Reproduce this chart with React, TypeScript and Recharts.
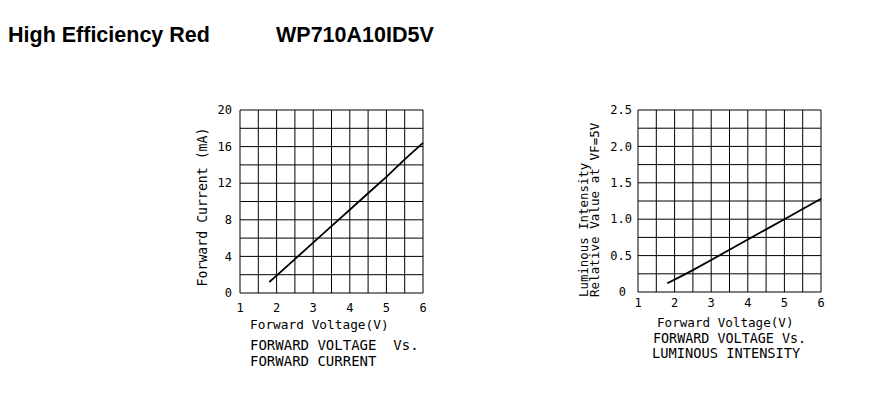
import React from "react";
import { LineChart, Line, XAxis, YAxis, CartesianGrid } from "recharts";

const voltage = [1.8, 2, 2.5, 3, 3.5, 4, 4.5, 5, 5.5, 6];
const forwardCurrent = [1.2, 1.9, 3.7, 5.5, 7.3, 9.1, 10.9, 12.7, 14.6, 16.4];
const luminous = [0.12, 0.17, 0.3, 0.44, 0.58, 0.72, 0.86, 1.0, 1.14, 1.28];

const xTicks = [1, 1.5, 2, 2.5, 3, 3.5, 4, 4.5, 5, 5.5, 6];
const xLabels = ["1", "2", "3", "4", "5", "6"];
const currentTicks = [0, 2, 4, 6, 8, 10, 12, 14, 16, 18, 20];
const currentLabels = ["0", "4", "8", "12", "16", "20"];
const lumTicks = [0, 0.25, 0.5, 0.75, 1, 1.25, 1.5, 1.75, 2, 2.25, 2.5];
const lumLabels = ["0", "0.5", "1.0", "1.5", "2.0", "2.5"];

const title = "High Efficiency Red";
const partNo = "WP710A10ID5V";

const leftData = voltage.map((v, i) => ({ v, y: forwardCurrent[i] }));
const rightData = voltage.map((v, i) => ({ v, y: luminous[i] }));

const MONO = "'DejaVu Sans Mono', 'Liberation Mono', monospace";

const fmtX = (t: number) => (Number.isInteger(t) ? xLabels[t - 1] : "");
const fmtCur = (t: number) => (t % 4 === 0 ? currentLabels[t / 4] : "");
const fmtLum = (t: number) => {
  const k = Math.round(t * 2);
  return Math.abs(t * 2 - k) < 1e-6 ? lumLabels[k] : "";
};

const LumTick = (props: any) => {
  const { x, y, payload } = props;
  const label = fmtLum(payload.value);
  if (!label) return <g />;
  const dx = payload.value === 0 ? -6 : 0;
  return (
    <text x={x + dx} y={y} dy="0.355em" textAnchor="end" fontFamily={MONO} fontSize={12} fill="#000">
      {label}
    </text>
  );
};

const abs = (left: number, top: number, extra: React.CSSProperties = {}): React.CSSProperties => ({
  position: "absolute",
  left,
  top,
  whiteSpace: "pre",
  fontFamily: MONO,
  color: "#000",
  ...extra,
});

export default function App() {
  const tickStyle = { fill: "#000", fontSize: 12, fontFamily: MONO };
  const titleFont = "'Liberation Sans', Arial, sans-serif";
  return (
    <div style={{ position: "absolute", left: 0, top: 0, width: 889, height: 394, background: "#fff", overflow: "hidden" }}>
      <div style={abs(8, 22, { fontFamily: titleFont, fontWeight: 700, fontSize: 21.5, lineHeight: "26px" })}>{title}</div>
      <div style={abs(276, 22, { fontFamily: titleFont, fontWeight: 700, fontSize: 21.5, lineHeight: "26px" })}>{partNo}</div>

      {/* Left chart */}
      <div style={{ position: "absolute", left: 160, top: 100 }}>
        <LineChart width={290} height={290} data={leftData} margin={{ top: 10, right: 27, bottom: 77, left: 50 }}>
          <CartesianGrid stroke="#000" strokeWidth={1} />
          <XAxis dataKey="v" type="number" domain={[1, 6]} ticks={xTicks} tickFormatter={fmtX} axisLine={false} tickLine={false} tick={tickStyle} height={20} interval={0} tickMargin={4} />
          <YAxis type="number" domain={[0, 20]} ticks={currentTicks} tickFormatter={fmtCur} axisLine={false} tickLine={false} tick={tickStyle} width={30} interval={0} />
          <Line dataKey="y" type="linear" stroke="#000" strokeWidth={1.8} dot={false} isAnimationActive={false} />
        </LineChart>
      </div>
      <div style={abs(250, 317, { fontSize: 12.8, lineHeight: "16px" })}>Forward Voltage(V)</div>
      <div style={abs(250, 337, { fontSize: 14, lineHeight: "16px" })}>{"FORWARD VOLTAGE  Vs."}</div>
      <div style={abs(250, 353, { fontSize: 14, lineHeight: "16px" })}>FORWARD CURRENT</div>

      {/* Right chart */}
      <div style={{ position: "absolute", left: 560, top: 100 }}>
        <LineChart width={290} height={290} data={rightData} margin={{ top: 10, right: 29, bottom: 78, left: 48 }}>
          <CartesianGrid stroke="#000" strokeWidth={1} />
          <XAxis dataKey="v" type="number" domain={[1, 6]} ticks={xTicks} tickFormatter={fmtX} axisLine={false} tickLine={false} tick={tickStyle} height={20} interval={0} tickMargin={0} />
          <YAxis type="number" domain={[0, 2.5]} ticks={lumTicks} axisLine={false} tickLine={false} tick={<LumTick />} width={30} interval={0} tickMargin={0} />
          <Line dataKey="y" type="linear" stroke="#000" strokeWidth={1.8} dot={false} isAnimationActive={false} />
        </LineChart>
      </div>
      <div style={abs(657, 315, { fontSize: 12.6, lineHeight: "16px" })}>Forward Voltage(V)</div>
      <div style={abs(653, 332, { fontSize: 13.4, lineHeight: "14px" })}>{"FORWARD VOLTAGE Vs."}</div>
      <div style={abs(652, 346, { fontSize: 13.7, lineHeight: "14px" })}>LUMINOUS INTENSITY</div>

      {/* Rotated axis titles */}
      <svg width={889} height={394} style={{ position: "absolute", left: 0, top: 0, pointerEvents: "none" }}>
        <text transform="translate(206.5,207) rotate(-90)" textAnchor="middle" fontFamily={MONO} fontSize={13.2} fill="#000">
          Forward Current (mA)
        </text>
        <text transform="translate(587.5,297) rotate(-90)" textAnchor="start" fontFamily={MONO} fontSize={12.4} fill="#000">
          Luminous Intensity
        </text>
        <text transform="translate(598.5,297) rotate(-90)" textAnchor="start" fontFamily={MONO} fontSize={12.6} fill="#000">
          Relative Value at VF=5V
        </text>
      </svg>
    </div>
  );
}
